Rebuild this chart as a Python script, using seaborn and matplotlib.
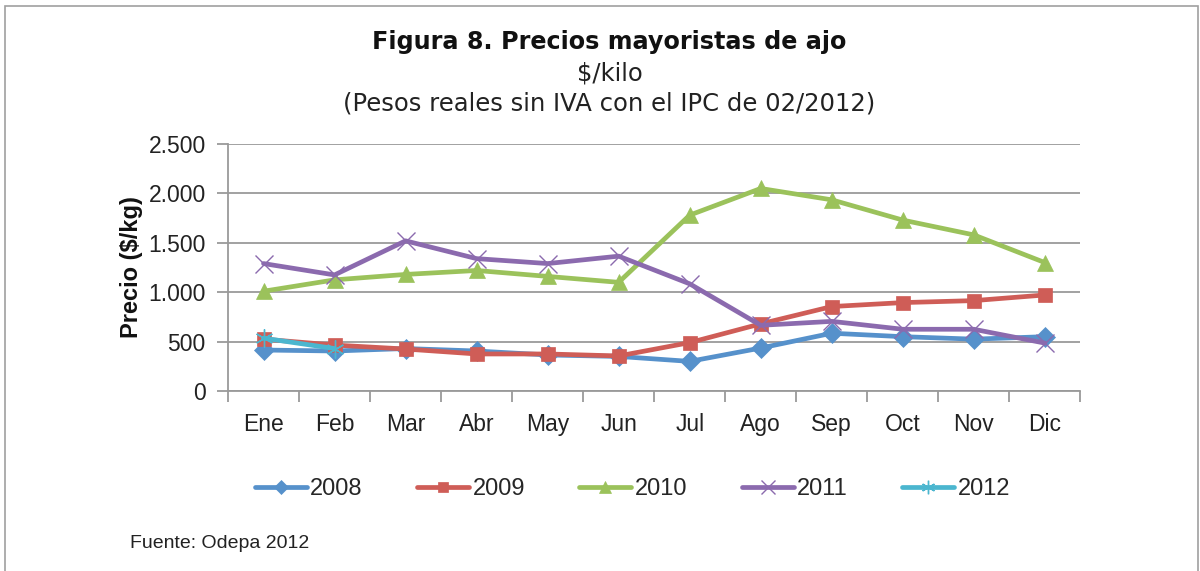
import numpy as np
import pandas as pd
import matplotlib
matplotlib.use("Agg")
import matplotlib.pyplot as plt
import seaborn as sns
from matplotlib.ticker import FuncFormatter, FixedLocator
from matplotlib.patches import Rectangle

# ---- data ----
meses = ["Ene", "Feb", "Mar", "Abr", "May", "Jun", "Jul", "Ago", "Sep", "Oct", "Nov", "Dic"]
anios = ["2008", "2009", "2010", "2011", "2012"]

p2008 = [415, 405, 430, 405, 365, 350, 300, 435, 585, 550, 525, 550]
p2009 = [525, 465, 425, 375, 375, 355, 490, 680, 855, 895, 915, 972]
p2010 = [1010, 1125, 1180, 1220, 1160, 1100, 1780, 2050, 1935, 1730, 1580, 1300]
p2011 = [1290, 1175, 1520, 1340, 1290, 1365, 1085, 665, 705, 625, 625, 485]
p2012 = [535, 430]

series = {"2008": p2008, "2009": p2009, "2010": p2010, "2011": p2011, "2012": p2012}

rows = []
for anio in anios:
    for i, v in enumerate(series[anio]):
        rows.append({"mes": i, "anio": anio, "precio": v})
df = pd.DataFrame(rows)

colores = {"2008": "#5691cb", "2009": "#cf5d57", "2010": "#9bc25b", "2011": "#8b6aae", "2012": "#4bb6cf"}
marcadores = {"2008": "D", "2009": "s", "2010": "^", "2011": "x", "2012": (6, 2, 0)}
tam = {"2008": 10, "2009": 10, "2010": 11, "2011": 13, "2012": 13}

sns.set_style("white")
plt.rcParams["font.family"] = ["Liberation Sans", "DejaVu Sans"]

fig = plt.figure(figsize=(12, 5.71), dpi=100)
ax = fig.add_axes([0.19, 0.3152, 0.7103, 0.4326])

gris = "#9a9a9a"
for anio in anios:
    d = df[df["anio"] == anio]
    sns.lineplot(data=d, x="mes", y="precio", ax=ax, color=colores[anio],
                 linewidth=3.4, marker=marcadores[anio], markersize=tam[anio],
                 markeredgecolor=colores[anio],
                 markeredgewidth=1.0 if anio in ("2011", "2012") else 0.5,
                 label=anio, legend=False, errorbar=None)

ax.set_xlim(-0.5, 11.5)
ax.set_ylim(0, 2500)
ax.set_yticks(np.arange(0, 2501, 500))
ax.yaxis.set_major_formatter(FuncFormatter(lambda v, p: f"{int(v):,}".replace(",", ".")))
ax.set_xticks(range(12))
ax.set_xticklabels(meses)
ax.xaxis.set_minor_locator(FixedLocator(np.arange(-0.5, 12, 1)))
ax.tick_params(axis="x", which="major", length=0, pad=16, labelsize=16.5, colors="#222222")
ax.tick_params(axis="x", which="minor", length=8, width=1.3, color=gris, direction="out")
ax.tick_params(axis="y", which="major", length=8, width=1.3, color=gris, pad=8,
               labelsize=16.5, labelcolor="#222222", direction="out")
ax.xaxis.set_tick_params(bottom=True, which="both")
ax.yaxis.set_tick_params(left=True)
ax.grid(axis="y", color=gris, linewidth=1.3)
ax.set_axisbelow(True)
for s in ["top", "right"]:
    ax.spines[s].set_visible(False)
for s in ["left", "bottom"]:
    ax.spines[s].set_color(gris)
    ax.spines[s].set_linewidth(1.3)
ax.set_xlabel("")
ax.set_ylabel("Precio ($/kg)", fontsize=17, fontweight="bold", labelpad=4, color="#111111")

# titles
fig.text(0.508, 0.926, "Figura 8. Precios mayoristas de ajo", ha="center", va="center",
         fontsize=17.2, fontweight="bold", family="DejaVu Sans", color="#111111")
fig.text(0.508, 0.872, "$/kilo", ha="center", va="center",
         fontsize=17.5, family="DejaVu Sans", color="#222222")
fig.text(0.508, 0.818, "(Pesos reales sin IVA con el IPC de 02/2012)", ha="center", va="center",
         fontsize=17.5, family="DejaVu Sans", color="#222222")

fig.legend(*ax.get_legend_handles_labels(), loc="center", bbox_to_anchor=(0.527, 0.143),
           ncol=5, frameon=False, fontsize=17, handlelength=2.2, handletextpad=0.15,
           columnspacing=2.3, markerscale=0.75)

fig.text(0.108, 0.048, "Fuente: Odepa 2012", ha="left", va="center", fontsize=14, color="#222222")

# outer frame
fig.patches.append(Rectangle((0.004, -0.01), 0.994, 1.0, transform=fig.transFigure,
                             fill=False, edgecolor="#a0a0a0", linewidth=1.2))

fig.savefig("out.png", dpi=100)
